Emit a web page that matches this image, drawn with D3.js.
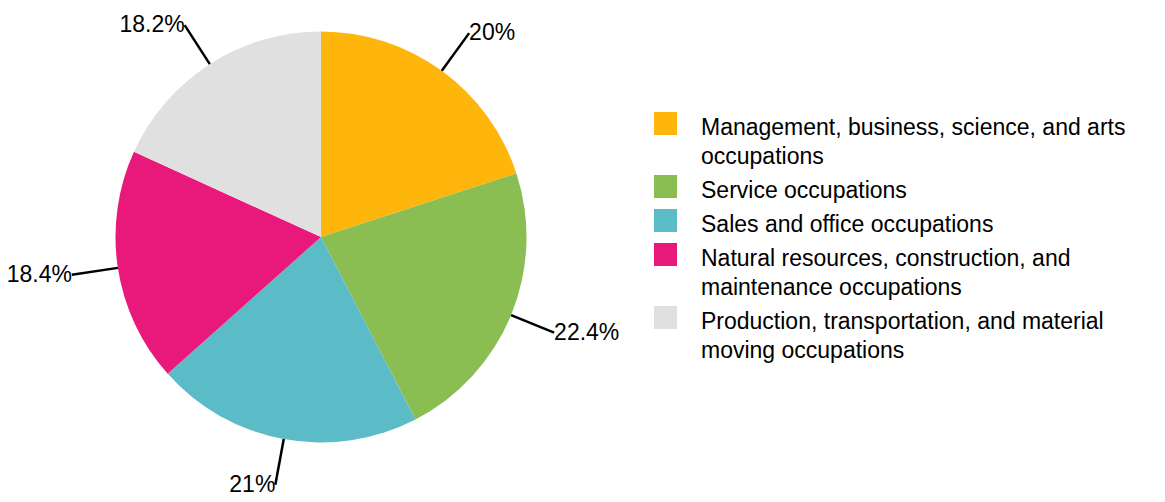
<!DOCTYPE html>
<html>
<head>
<meta charset="utf-8">
<script src="https://cdn.jsdelivr.net/npm/d3@7"></script>
<style>
  body { margin: 0; background: #fff; }
  text { font-family: "Liberation Sans", Arial, sans-serif; fill: #000; }
</style>
</head>
<body>
<div id="chart"></div>
<script>
(function () {

  var categories = [
    "Management, business, science, and arts occupations",
    "Service occupations",
    "Sales and office occupations",
    "Natural resources, construction, and maintenance occupations",
    "Production, transportation, and material moving occupations"
  ]
  var values = [20, 22.4, 21, 18.4, 18.2]
  var labels = ["20%", "22.4%", "21%", "18.4%", "18.2%"]
  var colors = ["#ffb60c", "#8abd52", "#5bbcc8", "#e8197b", "#e0e0e0"]

  var width = 1165,
      height = 502

  var svg = d3.select("#chart").append("svg")
      .attr("width", width)
      .attr("height", height)

  var cx = 321, cy = 237, radius = 205.5

  var pie = d3.pie().sort(null).value(function (d) { return d })
  var arcs = pie(values)

  var arc = d3.arc().innerRadius(0).outerRadius(radius)
  var lineStart = d3.arc().innerRadius(radius).outerRadius(radius)
  var lineEnd = d3.arc().innerRadius(252).outerRadius(252)

  var g = svg.append("g")
      .attr("transform", "translate(" + cx + "," + cy + ")")

  g.selectAll(".slice")
    .data(arcs)
    .enter().append("path")
    .attr("class", "slice")
    .attr("fill", function (d, i) { return colors[i] })
    .attr("d", arc)

  // leader lines, from the rim out along the middle of each slice
  function pt(a, d) {
    var m = (d.startAngle + d.endAngle) / 2
    return a.centroid({ startAngle: m, endAngle: m })
  }

  g.selectAll(".leader")
    .data(arcs)
    .enter().append("line")
    .attr("class", "leader")
    .attr("stroke", "#000")
    .attr("stroke-width", 2.5)
    .attr("x1", function (d) { return pt(lineStart, d)[0] })
    .attr("y1", function (d) { return pt(lineStart, d)[1] })
    .attr("x2", function (d) { return pt(lineEnd, d)[0] })
    .attr("y2", function (d) { return pt(lineEnd, d)[1] })

  g.selectAll(".pct")
    .data(arcs)
    .enter().append("text")
    .attr("class", "pct")
    .attr("font-size", 23)
    .attr("x", function (d) { return pt(lineEnd, d)[0] })
    .attr("y", function (d) { return pt(lineEnd, d)[1] })
    .attr("dy", "0.3em")
    .attr("text-anchor", function (d) { return pt(lineEnd, d)[0] > 0 ? "start" : "end" })
    .text(function (d, i) { return labels[i] })

  // legend
  var legend = svg.append("g")
      .attr("transform", "translate(654,112)")

  var lineH = 29, gap = 5, maxW = 440
  var y = 0

  categories.forEach(function (name, i) {
    var item = legend.append("g").attr("transform", "translate(0," + y + ")")
    item.append("rect")
      .attr("width", 23)
      .attr("height", 23)
      .attr("fill", colors[i])

    var t = item.append("text")
      .attr("font-size", 23)
      .attr("x", 47)
      .attr("y", 15)
      .attr("dy", "0.35em")

    // wrap long names
    var words = name.split(" ")
    var line = []
    var tspan = t.append("tspan").attr("x", 47)
    var n = 1
    words.forEach(function (w) {
      line.push(w)
      tspan.text(line.join(" "))
      if (tspan.node().getComputedTextLength() > maxW && line.length > 1) {
        line.pop()
        tspan.text(line.join(" "))
        line = [w]
        tspan = t.append("tspan").attr("x", 47).attr("dy", lineH).text(w)
        n++
      }
    })
    y += n * lineH + gap
  })

})()
</script>
</body>
</html>
